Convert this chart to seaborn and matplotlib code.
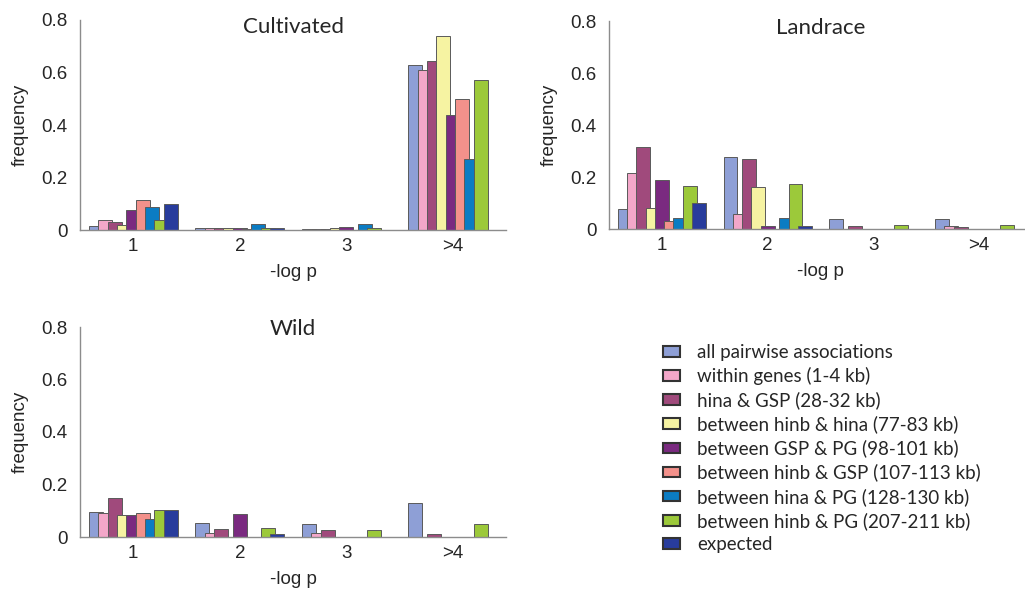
import matplotlib
matplotlib.use('Agg')
import pandas as pd
import matplotlib.pyplot as plt
import seaborn as sns
from matplotlib.patches import Patch
from matplotlib.ticker import FixedLocator, MultipleLocator

# bins on the x axis
bins = ['1', '2', '3', '>4']

series = [
    'all pairwise associations',
    'within genes (1-4 kb)',
    'hina & GSP (28-32 kb)',
    'between hinb & hina (77-83 kb)',
    'between GSP & PG (98-101 kb)',
    'between hinb & GSP (107-113 kb)',
    'between hina & PG (128-130 kb)',
    'between hinb & PG (207-211 kb)',
    'expected',
]

colors = ['#8e9fd6', '#f3a7c9', '#a04a7c', '#f6f3a2', '#7a2a80',
          '#f3918b', '#0b7cc3', '#9cc93a', '#283c9c']

# one row per series, one value per bin
cultivated = [
    [0.015, 0.009, 0.003, 0.630],
    [0.038, 0.009, 0.002, 0.610],
    [0.030, 0.006, 0.003, 0.645],
    [0.020, 0.009, 0.008, 0.740],
    [0.077, 0.007, 0.012, 0.440],
    [0.115, 0.005, 0.000, 0.500],
    [0.087, 0.023, 0.022, 0.270],
    [0.040, 0.009, 0.007, 0.570],
    [0.100, 0.009, 0.000, 0.000],
]

landrace = [
    [0.077, 0.276, 0.037, 0.037],
    [0.215, 0.058, 0.000, 0.010],
    [0.317, 0.268, 0.012, 0.006],
    [0.079, 0.160, 0.000, 0.000],
    [0.188, 0.012, 0.000, 0.000],
    [0.032, 0.000, 0.000, 0.000],
    [0.042, 0.042, 0.000, 0.000],
    [0.166, 0.172, 0.015, 0.017],
    [0.101, 0.012, 0.000, 0.000],
]

wild = [
    [0.096, 0.055, 0.048, 0.130],
    [0.092, 0.015, 0.015, 0.000],
    [0.149, 0.031, 0.028, 0.013],
    [0.085, 0.000, 0.000, 0.000],
    [0.082, 0.087, 0.000, 0.000],
    [0.093, 0.000, 0.000, 0.000],
    [0.069, 0.000, 0.000, 0.000],
    [0.104, 0.036, 0.028, 0.051],
    [0.102, 0.012, 0.000, 0.000],
]


def long_form(vals):
    rows = []
    for name, row in zip(series, vals):
        for b, v in zip(bins, row):
            rows.append({'bin': b, 'series': name, 'freq': v})
    return pd.DataFrame(rows)


def draw_panel(ax, vals, title, title_off):
    df = long_form(vals)
    sns.barplot(data=df, x='bin', y='freq', hue='series', order=bins,
                hue_order=series, palette=colors, width=0.79, saturation=1,
                edgecolor='#5a5a5a', linewidth=0.7, errorbar=None,
                legend=False, ax=ax)
    # excel style overlapping bars
    for p in ax.patches:
        w = p.get_width()
        c = p.get_x() + w / 2
        p.set_x(c - w * 0.75)
        p.set_width(w * 1.5)
        if p.get_height() == 0:
            p.set_visible(False)

    ax.set_xlim(-0.5, 3.5)
    ax.set_ylim(0, 0.8)
    ax.yaxis.set_minor_locator(MultipleLocator(0.1))
    ax.set_yticks([0, 0.2, 0.4, 0.6, 0.8])
    ax.set_yticklabels(['0', '0.2', '0.4', '0.6', '0.8'])
    ax.xaxis.set_minor_locator(FixedLocator([0.5, 1.5, 2.5, 3.5]))
    ax.tick_params(axis='x', which='major', length=0, pad=6, labelsize=13.5)
    ax.tick_params(axis='x', which='minor', length=4, color='#8c8c8c', direction='out')
    ax.tick_params(axis='y', which='both', length=4, color='#8c8c8c',
                   direction='out', labelsize=13.5, pad=5)
    for s in ['top', 'right']:
        ax.spines[s].set_visible(False)
    for s in ['left', 'bottom']:
        ax.spines[s].set_color('#8c8c8c')
        ax.spines[s].set_linewidth(1.0)
    ax.set_xlabel('-log p', fontsize=13.5, labelpad=6)
    ax.set_ylabel('frequency', fontsize=13.5, labelpad=9)
    ax.text(0.5, 1 - title_off / 210, title, transform=ax.transAxes,
            ha='center', va='center', fontsize=16, family='Lato')


sns.set_style('white')
plt.rcParams['font.family'] = ['Liberation Sans', 'DejaVu Sans']

W, H = 1025, 593
fig = plt.figure(figsize=(W / 100, H / 100), dpi=100)

ax_cult = fig.add_axes([80 / W, 1 - 230 / H, 426 / W, 210 / H])
ax_land = fig.add_axes([609 / W, 1 - 229 / H, 423 / W, 208 / H])
ax_wild = fig.add_axes([80 / W, 1 - 537 / H, 426 / W, 210 / H])

draw_panel(ax_cult, cultivated, 'Cultivated', 7)
draw_panel(ax_land, landrace, 'Landrace', 7)
draw_panel(ax_wild, wild, 'Wild', 2)

handles = [Patch(facecolor=c, edgecolor='#333333', linewidth=1.5, label=s)
           for s, c in zip(series, colors)]
fig.legend(handles=handles, loc='upper left',
           bbox_to_anchor=(663 / W, 1 - 344 / H), frameon=False,
           borderpad=0, borderaxespad=0, handlelength=0.9,
           handleheight=0.5, handletextpad=0.9, labelspacing=0.33,
           prop={'family': 'Lato', 'size': 13.5})

fig.savefig('out.png', dpi=100, facecolor='white')
